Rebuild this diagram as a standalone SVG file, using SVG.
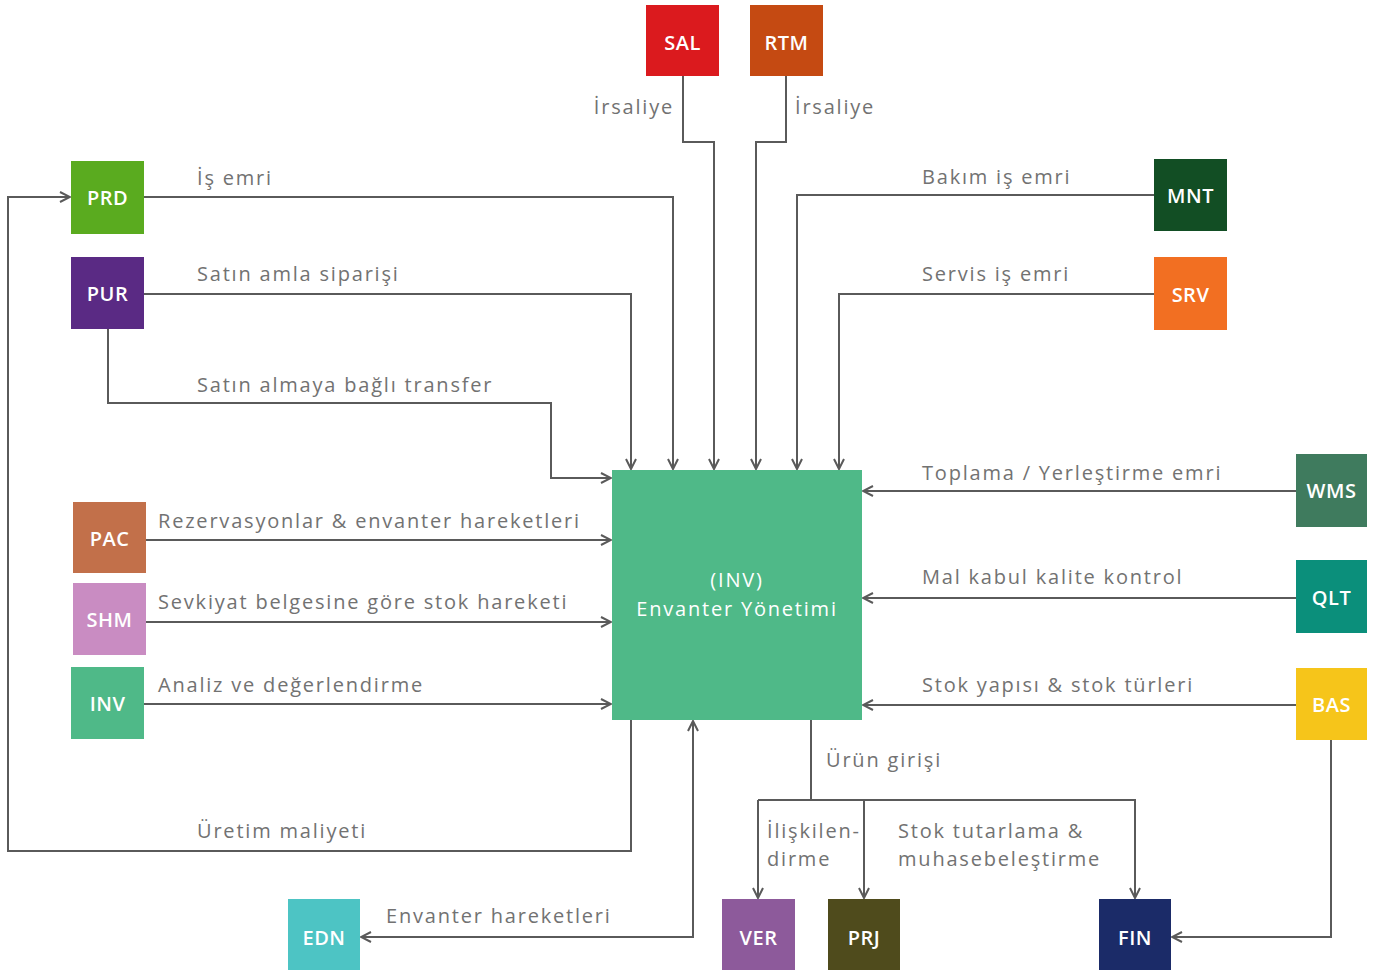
<svg xmlns="http://www.w3.org/2000/svg" width="1376" height="971" viewBox="0 0 1376 971">
<defs>
<style>
.lbl{font-family:"Open Sans","Liberation Sans",sans-serif;font-size:20px;fill:#727272;letter-spacing:1.8px}
.nt{font-family:"Open Sans","Liberation Sans",sans-serif;font-size:20px;fill:#ffffff;text-anchor:middle;font-weight:600;letter-spacing:0.5px}
.mt{font-family:"Open Sans","Liberation Sans",sans-serif;font-size:20px;fill:#ffffff;text-anchor:middle;letter-spacing:1.8px}
.ln{fill:none;stroke:#5a5a5a;stroke-width:2}
.a{marker-end:url(#ah)}
</style>
<marker id="ah" viewBox="0 0 12 12" refX="11" refY="6" markerWidth="12" markerHeight="12" markerUnits="userSpaceOnUse" orient="auto-start-reverse">
<path d="M1,1 L11,6 L1,11" fill="none" stroke="#5a5a5a" stroke-width="2"/>
</marker>
</defs>
<rect width="1376" height="971" fill="#ffffff"/>
<g id="connectors">
<path class="ln a" d="M683,76 V142 H714 V469"/>
<path class="ln a" d="M786,76 V142 H756 V469"/>
<path class="ln a" d="M144,197 H673 V469"/>
<path class="ln a" d="M144,294 H631 V469"/>
<path class="ln a" d="M108,329 V403 H551 V478 H611"/>
<path class="ln a" d="M1154,195 H797 V469"/>
<path class="ln a" d="M1154,294 H839 V469"/>
<path class="ln a" d="M146,540 H611"/>
<path class="ln a" d="M146,622 H611"/>
<path class="ln a" d="M144,704 H611"/>
<path class="ln a" d="M1296,491 H863"/>
<path class="ln a" d="M1296,598 H863"/>
<path class="ln a" d="M1296,705 H863"/>
<path class="ln a" d="M631,720 V851 H8 V197 H70"/>
<path class="ln a" d="M361,937 H693 V721" style="marker-start:url(#ah)"/>
<path class="ln" d="M811,720 V800"/>
<path class="ln a" d="M758,800 V898"/>
<path class="ln a" d="M864,800 V898"/>
<path class="ln a" d="M758,800 H1135 V898"/>
<path class="ln a" d="M1331,740 V937 H1172"/>
</g>
<g id="labels">
<text class="lbl" x="674" y="114" text-anchor="end">İrsaliye</text>
<text class="lbl" x="795" y="114">İrsaliye</text>
<text class="lbl" x="197" y="185">İş emri</text>
<text class="lbl" x="197" y="281">Satın amla siparişi</text>
<text class="lbl" x="197" y="392">Satın almaya bağlı transfer</text>
<text class="lbl" x="922" y="184">Bakım iş emri</text>
<text class="lbl" x="922" y="281">Servis iş emri</text>
<text class="lbl" x="158" y="528">Rezervasyonlar &amp; envanter hareketleri</text>
<text class="lbl" x="158" y="609">Sevkiyat belgesine göre stok hareketi</text>
<text class="lbl" x="158" y="692">Analiz ve değerlendirme</text>
<text class="lbl" x="922" y="480">Toplama / Yerleştirme emri</text>
<text class="lbl" x="922" y="584">Mal kabul kalite kontrol</text>
<text class="lbl" x="922" y="692">Stok yapısı &amp; stok türleri</text>
<text class="lbl" x="197" y="838">Üretim maliyeti</text>
<text class="lbl" x="386" y="923">Envanter hareketleri</text>
<text class="lbl" x="826" y="767">Ürün girişi</text>
<text class="lbl" x="767" y="838">İlişkilen-</text>
<text class="lbl" x="767" y="866">dirme</text>
<text class="lbl" x="898" y="838">Stok tutarlama &amp;</text>
<text class="lbl" x="898" y="866">muhasebeleştirme</text>
</g>
<g id="node-SAL"><rect x="646" y="5" width="73" height="71" fill="#db1a1e"/><text class="nt" x="682.5" y="50">SAL</text></g>
<g id="node-RTM"><rect x="750" y="5" width="73" height="71" fill="#c54a12"/><text class="nt" x="786.5" y="50">RTM</text></g>
<g id="node-PRD"><rect x="71" y="161" width="73" height="73" fill="#5aab1f"/><text class="nt" x="107.5" y="205">PRD</text></g>
<g id="node-PUR"><rect x="71" y="257" width="73" height="72" fill="#5a2a84"/><text class="nt" x="107.5" y="301">PUR</text></g>
<g id="node-MNT"><rect x="1154" y="159" width="73" height="72" fill="#124e24"/><text class="nt" x="1190.5" y="203">MNT</text></g>
<g id="node-SRV"><rect x="1154" y="257" width="73" height="73" fill="#f26f22"/><text class="nt" x="1190.5" y="302">SRV</text></g>
<g id="node-PAC"><rect x="73" y="502" width="73" height="71" fill="#c2704a"/><text class="nt" x="109.5" y="546">PAC</text></g>
<g id="node-SHM"><rect x="73" y="583" width="73" height="72" fill="#c98cc2"/><text class="nt" x="109.5" y="627">SHM</text></g>
<g id="node-INV-small"><rect x="71" y="667" width="73" height="72" fill="#4fb988"/><text class="nt" x="107.5" y="711">INV</text></g>
<g id="node-INV"><rect x="612" y="470" width="250" height="250" fill="#4fb988"/><text class="mt" x="737" y="587">(INV)</text><text class="mt" x="737" y="616">Envanter Yönetimi</text></g>
<g id="node-WMS"><rect x="1296" y="454" width="71" height="73" fill="#3f7b5e"/><text class="nt" x="1331.5" y="498">WMS</text></g>
<g id="node-QLT"><rect x="1296" y="560" width="71" height="73" fill="#0b8f7b"/><text class="nt" x="1331.5" y="605">QLT</text></g>
<g id="node-BAS"><rect x="1296" y="668" width="71" height="72" fill="#f6c51a"/><text class="nt" x="1331.5" y="712">BAS</text></g>
<g id="node-EDN"><rect x="288" y="899" width="72" height="71" fill="#4dc4c4"/><text class="nt" x="324" y="945">EDN</text></g>
<g id="node-VER"><rect x="722" y="899" width="73" height="71" fill="#8d5a9b"/><text class="nt" x="758.5" y="945">VER</text></g>
<g id="node-PRJ"><rect x="828" y="899" width="72" height="71" fill="#4f4b1c"/><text class="nt" x="864" y="945">PRJ</text></g>
<g id="node-FIN"><rect x="1099" y="899" width="72" height="71" fill="#1b2b68"/><text class="nt" x="1135" y="945">FIN</text></g>
</svg>
